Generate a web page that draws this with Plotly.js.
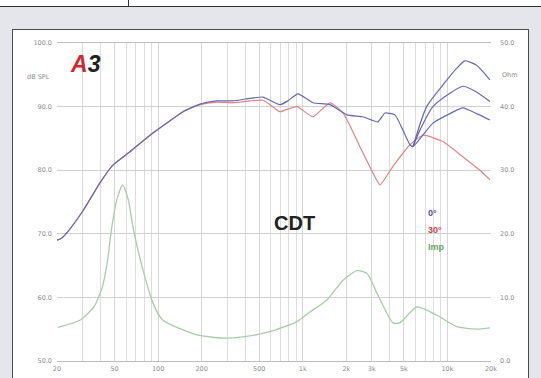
<!DOCTYPE html>
<html>
<head>
<meta charset="utf-8">
<script src="https://cdn.plot.ly/plotly-3.0.1.min.js"></script>
<style>
  html, body { margin:0; padding:0; width:541px; height:378px; overflow:hidden; background:#e5e6eb; }
  #topstrip { position:absolute; left:0; top:0; width:541px; height:6px; background:#fff; border-bottom:1px solid #333; }
  #vline { position:absolute; left:128px; top:0; width:1px; height:6px; background:#333; }
  #box { position:absolute; left:12px; top:29px; width:515px; height:360px; background:#fff; border:1.5px solid #4a4a4a; }
  #chart { position:absolute; left:0; top:0; width:541px; height:378px; }
</style>
</head>
<body>
<div id="topstrip"></div>
<div id="vline"></div>
<div id="box"></div>
<div id="chart"></div>
<script>
// ---- data ----
const freq0 = [20, 21.5, 23.3, 30.4, 39.6, 48.7, 63.9, 87.9, 114.6, 148.6, 194.6, 254, 329, 432, 531, 593, 695, 789, 926, 1176, 1541, 2018, 2605, 3306, 3698, 4334, 4920, 5508, 5772, 7932, 10400, 12790, 15890, 19660];
const spl0  = [69.0, 69.3, 70.1, 73.7, 78.0, 80.8, 82.9, 85.5, 87.4, 89.2, 90.4, 90.9, 90.9, 91.3, 91.5, 91.0, 90.3, 90.9, 92.0, 90.6, 90.3, 88.7, 88.4, 87.6, 89.0, 88.7, 86.3, 84.0, 83.7, 87.4, 88.9, 89.8, 88.9, 87.9];

const freq0b = [5772, 6452, 7932, 10400, 12790, 15890, 19660];
const spl0b  = [83.7, 86.3, 90.0, 92.1, 93.2, 92.3, 90.8];

const freq0c = [5772, 7178, 9304, 11560, 13214, 15890, 19660];
const spl0c  = [83.7, 90.0, 93.4, 96.0, 97.2, 96.5, 94.2];

const freq30 = [20, 21.5, 23.3, 30.4, 39.6, 48.7, 63.9, 87.9, 114.6, 148.6, 194.6, 254, 329, 432, 531, 593, 695, 789, 912, 1176, 1541, 1897, 2484, 3054, 3414, 4198, 5508, 6765, 9304, 12790, 16760, 19660];
const spl30  = [69.0, 69.3, 70.1, 73.7, 78.0, 80.8, 82.9, 85.5, 87.4, 89.2, 90.3, 90.7, 90.6, 90.9, 91.0, 90.3, 89.2, 89.6, 90.0, 88.4, 90.6, 89.0, 83.7, 79.6, 77.7, 80.6, 84.0, 85.5, 84.5, 82.1, 80.0, 78.5];

const freqImp = [20.3, 28.8, 36, 41, 44.5, 47.8, 52, 56.9, 62, 67, 72.5, 78.6, 92.1, 108, 186, 281, 386, 593, 912, 1120, 1469, 1897, 2366, 2776, 3254, 4198, 4692, 6150, 8454, 11610, 15990, 19660];
const ohmImp  = [5.3, 6.4, 8.5, 11.5, 15.5, 21.0, 25.5, 27.7, 25.5, 21.1, 17.5, 14.3, 9.1, 6.4, 4.1, 3.6, 3.8, 4.6, 6.2, 7.7, 9.6, 12.7, 14.2, 13.8, 10.7, 6.0, 6.0, 8.5, 7.2, 5.4, 5.0, 5.2];

const xTickVals  = [20, 50, 100, 200, 500, 1000, 2000, 3000, 5000, 10000, 20000];
const xTickText  = ['20', '50', '100', '200', '500', '1k', '2k', '3k', '5k', '10k', '20k'];
const yLeftVals  = [50, 60, 70, 80, 90, 100];
const yLeftText  = ['50.0', '60.0', '70.0', '80.0', '90.0', '100.0'];
const yRightVals = [0, 10, 20, 30, 40, 50];
const yRightText = ['0.0', '10.0', '20.0', '30.0', '40.0', '50.0'];

// minor grid positions (log grid 1..9 per decade)
const gridFreqs = [];
for (let d = 10; d <= 10000; d *= 10) {
  for (let m = 1; m <= 9; m++) { const f = d * m; if (f >= 20 && f <= 20000) gridFreqs.push(f); }
}

const blue = '#6868b4', red = '#e0848a', green = '#a6cea6';
const tickFont = {family: 'DejaVu Sans, sans-serif', size: 6.5, color: '#8a8a8a'};

const traces = [
  {x: freqImp, y: ohmImp, yaxis: 'y2', mode: 'lines', line: {color: green, width: 1.3, shape: 'spline', smoothing: 0.6}},
  {x: freq30, y: spl30, mode: 'lines', line: {color: red, width: 1.2, shape: 'spline', smoothing: 0.5}},
  {x: freq0b, y: spl0b, mode: 'lines', line: {color: blue, width: 1.2, shape: 'spline', smoothing: 0.6}},
  {x: freq0c, y: spl0c, mode: 'lines', line: {color: blue, width: 1.2, shape: 'spline', smoothing: 0.6}},
  {x: freq0, y: spl0, mode: 'lines', line: {color: blue, width: 1.2, shape: 'spline', smoothing: 0.5}}
];

const layout = {
  width: 541, height: 378,
  margin: {l: 57, r: 50, t: 43, b: 17, pad: 0},
  paper_bgcolor: 'rgba(0,0,0,0)', plot_bgcolor: 'rgba(0,0,0,0)',
  showlegend: false,
  xaxis: {
    type: 'log', range: [Math.log10(20), Math.log10(20000)],
    tickmode: 'array', tickvals: xTickVals, ticktext: xTickText,
    tickfont: tickFont, ticks: '', showgrid: true, gridcolor: '#d6d6d6', gridwidth: 1,
    minor: {tickmode: 'array', tickvals: gridFreqs, showgrid: true, gridcolor: '#dcdcdc', gridwidth: 1, ticks: ''},
    showline: true, linecolor: '#bdbdbd', linewidth: 1, mirror: true, zeroline: false,
    ticklabelstandoff: 1
  },
  yaxis: {
    range: [50, 100], tickmode: 'array', tickvals: yLeftVals, ticktext: yLeftText,
    tickfont: tickFont, ticks: '', showgrid: true, gridcolor: '#d0d0d0', gridwidth: 1,
    showline: false, zeroline: false, ticklabelstandoff: 4
  },
  yaxis2: {
    range: [0, 50], overlaying: 'y', side: 'right', tickmode: 'array', tickvals: yRightVals, ticktext: yRightText,
    tickfont: tickFont, ticks: '', showgrid: false, zeroline: false, showline: false, ticklabelstandoff: 8
  },
  annotations: [
    {xref: 'paper', yref: 'y', x: -0.012, y: 94.6, xanchor: 'right', yanchor: 'middle', showarrow: false,
     text: 'dB SPL', font: tickFont},
    {xref: 'paper', yref: 'y2', x: 1.02, y: 45, xanchor: 'left', yanchor: 'middle', showarrow: false,
     text: 'Ohm', font: tickFont},
    {xref: 'paper', yref: 'paper', x: 0.025, y: 0.935, xanchor: 'left', yanchor: 'middle', showarrow: false,
     text: '<i><b><span style="color:#d42630">A</span>3</b></i>', font: {family: 'Liberation Sans, Arial, sans-serif', size: 23, color: '#222'}},
    {xref: 'paper', yref: 'paper', x: 0.548, y: 0.435, xanchor: 'center', yanchor: 'middle', showarrow: false,
     text: '<b>CDT</b>', font: {family: 'Liberation Sans, Arial, sans-serif', size: 20, color: '#222'}},
    {xref: 'paper', yref: 'paper', x: 0.85, y: 0.465, xanchor: 'left', yanchor: 'middle', showarrow: false,
     text: '<b>0°</b>', font: {family: 'Liberation Sans, Arial, sans-serif', size: 9, color: '#4f4fa8'}},
    {xref: 'paper', yref: 'paper', x: 0.85, y: 0.412, xanchor: 'left', yanchor: 'middle', showarrow: false,
     text: '<b>30°</b>', font: {family: 'Liberation Sans, Arial, sans-serif', size: 9, color: '#d0404c'}},
    {xref: 'paper', yref: 'paper', x: 0.85, y: 0.357, xanchor: 'left', yanchor: 'middle', showarrow: false,
     text: '<b>Imp</b>', font: {family: 'Liberation Sans, Arial, sans-serif', size: 9, color: '#5ea85e'}}
  ]
};

Plotly.newPlot('chart', traces, layout, {staticPlot: true, displayModeBar: false});
</script>
</body>
</html>
